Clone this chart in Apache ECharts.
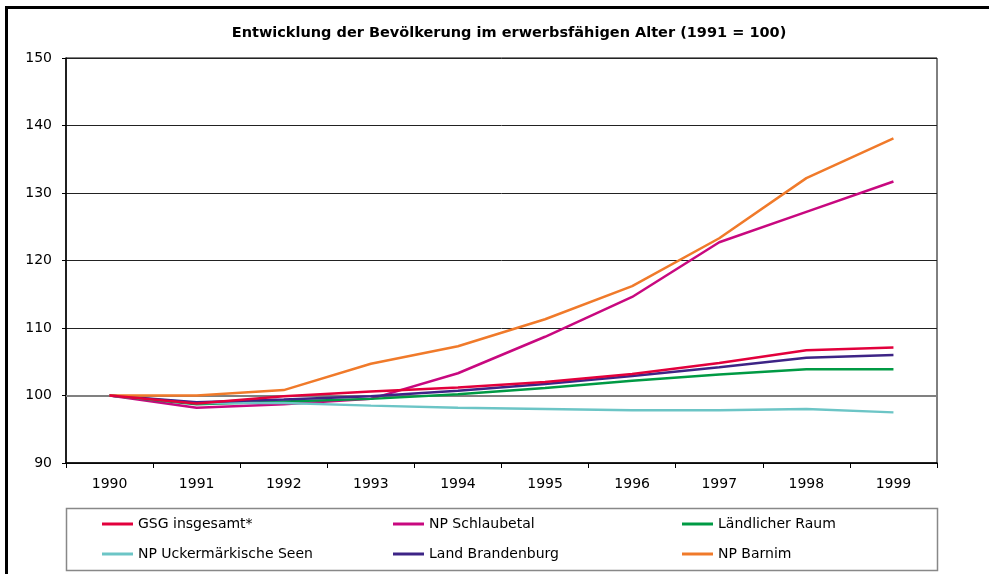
<!DOCTYPE html>
<html>
<head>
<meta charset="utf-8">
<script src="https://cdn.jsdelivr.net/npm/echarts@6/dist/echarts.min.js"></script>
<style>
  html, body { margin: 0; padding: 0; background: #fff; }
  #chart { width: 989px; height: 574px; }
</style>
</head>
<body>
<div id="chart"></div>
<script>
// Jahre (x-Achse)
var years = ['1990', '1991', '1992', '1993', '1994', '1995', '1996', '1997', '1998', '1999'];
// Indexwerte je Gebiet
var gsg        = [100, 98.8, 99.9, 100.6, 101.2, 102.0, 103.2, 104.8, 106.7, 107.1];
var schlaube   = [100, 98.2, 98.7, 99.5, 103.3, 108.7, 114.6, 122.7, 127.2, 131.7];
var laendlich  = [100, 98.7, 99.1, 99.5, 100.2, 101.1, 102.2, 103.1, 103.9, 103.9];
var ucker      = [100, 98.9, 98.9, 98.5, 98.2, 98.0, 97.8, 97.8, 98.0, 97.5];
var brandenb   = [100, 99.0, 99.4, 99.9, 100.7, 101.7, 102.9, 104.2, 105.6, 106.0];
var barnim     = [100, 100.0, 100.8, 104.7, 107.3, 111.3, 116.2, 123.3, 132.2, 138.1];

var font = '"DejaVu Sans", Arial, sans-serif';

function line(name, data, color) {
    return {
        name: name,
        type: 'line',
        data: data,
        symbol: 'none',
        lineStyle: { color: color, width: 2.5 },
        itemStyle: { color: color },
        z: 3
    };
}

function legendCol(left, names) {
    return {
        orient: 'vertical',
        left: left,
        top: 512,
        data: names,
        icon: 'rect',
        itemWidth: 31,
        itemHeight: 3,
        itemGap: 16,
        textStyle: { color: '#000', fontFamily: font, fontSize: 14, lineHeight: 14 }
    };
}

var chartDom = document.getElementById('chart');
var myChart = echarts.init(chartDom);
var option;
var s_gsg = line('GSG insgesamt*', gsg, '#e2003c');
s_gsg.markLine = {
    silent: true,
    symbol: 'none',
    label: { show: false },
    lineStyle: { color: '#808080', width: 2, type: 'solid' },
    data: [{ yAxis: 100 }],
    z: 1
};
s_gsg.z = 4;
option = {
    animation: false,
    title: {
        text: 'Entwicklung der Bevölkerung im erwerbsfähigen Alter (1991 = 100)',
        left: 504,
        textAlign: 'center',
        top: 21,
        textStyle: { fontFamily: font, fontSize: 14.5, fontWeight: 'bold', color: '#000' }
    },
    grid: {
        left: 66, right: 52, top: 58, bottom: 111,
        show: true, borderColor: '#000', borderWidth: 1
    },
    legend: [
        legendCol(97, ['GSG insgesamt*', 'NP Uckermärkische Seen']),
        legendCol(388, ['NP Schlaubetal', 'Land Brandenburg']),
        legendCol(677, ['Ländlicher Raum', 'NP Barnim'])
    ],
    xAxis: {
        type: 'category',
        data: years,
        boundaryGap: true,
        axisLine: { lineStyle: { color: '#000', width: 1.5 } },
        axisTick: { show: true, length: 5, lineStyle: { color: '#000' } },
        axisLabel: { color: '#000', fontFamily: font, fontSize: 14, margin: 14 }
    },
    yAxis: {
        type: 'value',
        min: 90, max: 150, interval: 10,
        axisLine: { show: true, lineStyle: { color: '#000', width: 1.5 } },
        axisTick: { show: true, length: 4, lineStyle: { color: '#000' } },
        axisLabel: { color: '#000', fontFamily: font, fontSize: 14, margin: 14 },
        splitLine: { lineStyle: { color: '#222', width: 1 } }
    },
    graphic: [
        { type: 'line', shape: { x1: 5, y1: 7.5, x2: 989, y2: 7.5 }, style: { stroke: '#000', lineWidth: 3 } },
        { type: 'line', shape: { x1: 6.5, y1: 6, x2: 6.5, y2: 574 }, style: { stroke: '#000', lineWidth: 3 } },
        { type: 'rect', shape: { x: 66.5, y: 508.5, width: 871, height: 62 }, style: { fill: 'none', stroke: '#888', lineWidth: 1.5 }, z: -1 }
    ],
    series: [
        s_gsg,
        line('NP Schlaubetal', schlaube, '#c8087f'),
        line('Ländlicher Raum', laendlich, '#009a44'),
        line('NP Uckermärkische Seen', ucker, '#6cc5c6'),
        line('Land Brandenburg', brandenb, '#3d2486'),
        line('NP Barnim', barnim, '#f07a2a')
    ]
};
option && myChart.setOption(option);
</script>
</body>
</html>
